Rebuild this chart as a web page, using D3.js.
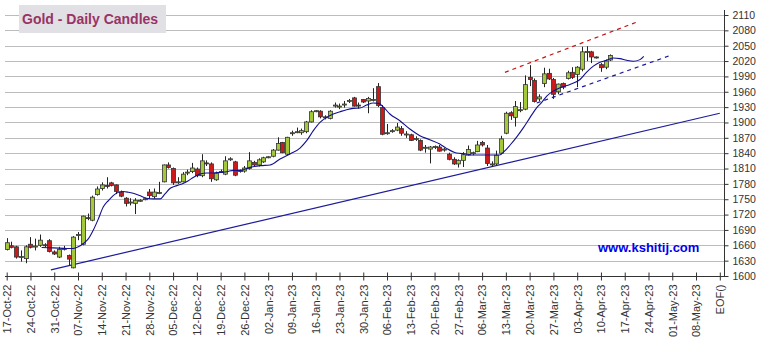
<!DOCTYPE html>
<html><head><meta charset="utf-8">
<script src="https://cdn.jsdelivr.net/npm/d3@7"></script>
<style>body{margin:0;background:#fff}svg{display:block}</style>
</head><body>
<script>
const tickLabels = ["17-Oct-22","24-Oct-22","31-Oct-22","07-Nov-22","14-Nov-22","21-Nov-22","28-Nov-22","05-Dec-22","12-Dec-22","19-Dec-22","26-Dec-22","02-Jan-23","09-Jan-23","16-Jan-23","23-Jan-23","30-Jan-23","06-Feb-23","13-Feb-23","20-Feb-23","27-Feb-23","06-Mar-23","13-Mar-23","20-Mar-23","27-Mar-23","03-Apr-23","10-Apr-23","17-Apr-23","24-Apr-23","01-May-23","08-May-23","EOF()"];
const yTicks = [1600,1630,1660,1690,1720,1750,1780,1810,1840,1870,1900,1930,1960,1990,2020,2050,2080,2110];
const open  = [1652,1659,1657,1637,1634,1662,1658,1660,1661,1669,1647,1637,1654,1640,1616,1680,1662,1714,1709,1759,1771,1777,1782,1778,1764,1752,1744,1742,1747,1750,1764,1755,1762,1784,1817,1810,1783,1784,1802,1804,1809,1796,1821,1819,1788,1804,1799,1828,1823,1806,1805,1810,1822,1817,1823,1832,1834,1846,1861,1838,1879,1881,1880,1882,1901,1922,1922,1911,1908,1933,1931,1935,1942,1948,1934,1945,1942,1944,1970,1929,1879,1883,1885,1888,1877,1876,1868,1865,1851,1848,1852,1852,1847,1838,1828,1819,1826,1836,1840,1843,1861,1850,1818,1819,1840,1879,1919,1910,1924,1926,1988,1982,1946,1976,1996,1984,1960,1976,1986,1998,1994,2004,2037,2038,2028,2013,2008,2022];
const high  = [1674,1667,1659,1650,1660,1676,1673,1681,1664,1672,1650,1657,1659,1642,1678,1686,1718,1722,1757,1775,1783,1793,1784,1779,1767,1754,1752,1752,1750,1753,1770,1771,1784,1818,1822,1812,1793,1803,1808,1821,1812,1838,1826,1822,1804,1808,1834,1832,1825,1808,1815,1842,1825,1830,1833,1834,1848,1871,1862,1872,1884,1890,1888,1903,1924,1924,1924,1914,1924,1939,1937,1942,1946,1950,1939,1946,1950,1967,1977,1934,1897,1887,1899,1893,1883,1878,1873,1867,1856,1854,1855,1856,1850,1841,1832,1828,1842,1855,1843,1864,1864,1856,1824,1845,1874,1921,1922,1942,1940,1992,2012,1986,1955,2007,2005,1987,1976,1978,2001,2008,2010,2048,2049,2040,2029,2016,2023,2033];
const low   = [1650,1654,1634,1628,1625,1654,1650,1657,1656,1646,1641,1635,1650,1621,1615,1670,1660,1709,1707,1757,1767,1771,1775,1760,1754,1736,1738,1721,1745,1748,1751,1751,1760,1783,1810,1778,1780,1783,1797,1801,1793,1793,1815,1784,1786,1802,1797,1825,1795,1802,1802,1808,1814,1814,1821,1830,1832,1845,1840,1836,1874,1879,1876,1879,1900,1920,1908,1906,1906,1929,1926,1929,1938,1931,1927,1938,1918,1941,1930,1875,1876,1880,1883,1874,1870,1864,1864,1844,1841,1820,1848,1843,1843,1826,1817,1812,1813,1835,1836,1842,1853,1815,1813,1817,1838,1877,1905,1892,1920,1924,1971,1939,1942,1969,1983,1946,1955,1965,1984,1985,1969,2000,2020,2016,2025,1999,2004,2020];
const close = [1665,1656,1637,1638,1657,1656,1658.5,1670,1660,1648,1643,1652,1653,1633,1676,1681,1717,1713,1754,1770,1778,1776,1777,1765,1756,1742,1744.5,1748,1748,1751,1757,1764,1763,1817,1812,1782,1784,1799,1803,1811,1796,1825,1820,1790,1801,1803,1825,1829,1797,1805,1811,1825,1817,1827,1831,1833,1846,1859,1841,1871,1880,1882,1884,1901,1921,1923,1911,1910,1922,1934,1932,1936,1943,1932,1933,1940,1947,1945,1933,1877,1880,1884,1891,1879,1877.5,1865,1868.5,1846,1851.5,1852,1853,1844,1848,1828,1819,1826,1837,1847,1841,1856,1856,1820,1819,1836,1868,1918,1913,1931,1925,1974,1984,1941,1950,1995,1985,1955,1975,1969,1997,1988,2008,2038,2038.5,2028,2027,2007,2020,2031];
const maDay = [7.35,9.8,12.6,14,15.07,16.1,17.2,18.2,19.3,20.3,21.4,22.4,23.5,24.5,25.6,26.6,28,29.4,30.9,32.3,33.3,34.4,35.8,37.2,38.2,39.3,40.7,42.1,43.5,44.9,46.3,47.7,49.1,51.2,53.3,55.4,57.5,59.6,61.7,63.1,64.5,65.9,67.3,68.7,70.1,71.5,72.9,74.3,75.7,77.1,78.2,79.3,80.6,82.7,84.8,86.9,89,91.1,92.5,94.6,96.7,98.1,100.9,103.7,104.5,105.9,107.3,108.7,110.1,111.5,112.5,113.6,115,116.4,118.5,120.6,122,123.4,124.8,126.2,127.6,129,130.4,131.8,133.2,134];
const maVal = [1655.6,1655,1653.7,1653.7,1657,1663.4,1673,1689.3,1712,1734.6,1747.5,1757.2,1763.7,1765,1763.7,1761.7,1757.2,1752,1750.7,1750.7,1760.4,1771.4,1776.6,1781,1786.3,1792.8,1799.2,1801.2,1801.2,1802.5,1803.8,1806.4,1806.4,1812.3,1815.6,1816.9,1828.6,1838.4,1850,1864.4,1884,1900.2,1910,1916.5,1921,1925,1927.5,1928.2,1934,1938,1937.3,1929.5,1916.5,1903.4,1887.2,1874.2,1866.3,1858,1849.4,1840.3,1838.4,1836.4,1836.4,1836.4,1842,1856,1872,1890,1910,1929,1938.8,1951.7,1961.4,1967.9,1974.3,1984,1998.3,2010,2017.7,2021.5,2026,2024.7,2021.5,2019.6,2022.8,2029.3];
const trendSolid = [[9.3,1612],[150,1918]];
const trendRedDash = [[104.8,1998],[132.9,2097.5]];
const trendBlueDash = [[111.5,1938],[139.9,2032]];

const W = 763, H = 344;
const svg = d3.select("body").append("svg").attr("width", W).attr("height", H);
const x = d3.scaleLinear().domain([0, 150]).range([6.7, 719.8]);
const y = d3.scaleLinear().domain([1600, 2110]).range([276, 15]);
const plotL = 5, plotR = 724;

// gridlines
svg.append("g").selectAll("line").data(yTicks.slice(1)).join("line")
  .attr("x1", plotL).attr("x2", plotR)
  .attr("y1", d => Math.round(y(d)) + 0.5).attr("y2", d => Math.round(y(d)) + 0.5)
  .attr("stroke", "#bcbcbc").attr("stroke-width", 1);

// title box
svg.append("rect").attr("x", 19).attr("y", 5).attr("width", 147).attr("height", 28).attr("fill", "#e1e0e4");
svg.append("text").attr("x", 22).attr("y", 24).text("Gold - Daily Candles")
  .attr("font-family", "Liberation Sans, Arial, sans-serif").attr("font-weight", "bold")
  .attr("font-size", 14).attr("fill", "#993366");

// website
svg.append("text").attr("x", 598).attr("y", 252).text("www.kshitij.com")
  .attr("font-family", "Liberation Sans, Arial, sans-serif").attr("font-weight", "bold")
  .attr("font-size", 13).attr("fill", "#0000ee");

// trend lines
const tl = d3.line().x(d => x(d[0])).y(d => y(d[1]));
svg.append("path").attr("d", tl(trendSolid)).attr("stroke", "#1c1c9c").attr("stroke-width", 1.2).attr("fill", "none");
svg.append("path").attr("d", tl(trendRedDash)).attr("stroke", "#cc1111").attr("stroke-width", 1.2).attr("stroke-dasharray", "4,4").attr("fill", "none");
svg.append("path").attr("d", tl(trendBlueDash)).attr("stroke", "#1a1aa0").attr("stroke-width", 1.2).attr("stroke-dasharray", "4,4").attr("fill", "none");

// candles
const idx = d3.range(open.length);
const cg = svg.append("g");
cg.selectAll("line.wick").data(idx).join("line").attr("class", "wick")
  .attr("x1", i => Math.round(x(i)) + 0.5).attr("x2", i => Math.round(x(i)) + 0.5)
  .attr("y1", i => y(high[i])).attr("y2", i => y(low[i]))
  .attr("stroke", "#222").attr("stroke-width", 1);
cg.selectAll("rect.body").data(idx).join("rect").attr("class", "body")
  .attr("x", i => Math.round(x(i)) - 1.5)
  .attr("y", i => y(Math.max(open[i], close[i])))
  .attr("width", 4)
  .attr("height", i => Math.max(1, Math.abs(y(open[i]) - y(close[i]))))
  .attr("fill", i => close[i] >= open[i] ? "#a3c93a" : "#cc1a1a")
  .attr("stroke", "#333").attr("stroke-width", 0.8);

// moving average
const ma = d3.line().curve(d3.curveMonotoneX).x((d, i) => x(maDay[i])).y((d, i) => y(maVal[i]));
svg.append("path").attr("d", ma(maDay)).attr("stroke", "#101090").attr("stroke-width", 1.1).attr("fill", "none");

// y axis
const ya = svg.append("g").attr("transform", `translate(${plotR + 0.5},0)`)
  .call(d3.axisRight(y).tickValues(yTicks).tickSize(4).tickPadding(4).tickFormat(d3.format("d")));
ya.select(".domain").remove();
ya.append("line").attr("x1", 0).attr("x2", 0).attr("y1", 10).attr("y2", 277).attr("stroke", "#333");
ya.selectAll(".tick line").attr("stroke", "#333");
ya.selectAll("text").attr("font-family", "Liberation Sans, Arial, sans-serif").attr("font-size", 10.5).attr("fill", "#333");

// x axis
const xa = svg.append("g").attr("transform", `translate(0,${Math.round(y(1600)) + 0.5})`)
  .call(d3.axisBottom(x).tickValues(d3.range(0, 151, 5)).tickFormat((d, i) => tickLabels[i]));
xa.select(".domain").remove();
xa.append("line").attr("x1", plotL).attr("x2", plotR).attr("stroke", "#333");
xa.selectAll(".tick line").attr("y1", -4).attr("y2", 4).attr("stroke", "#333");
xa.selectAll(".tick text").attr("transform", "rotate(-90)").attr("text-anchor", "end")
  .attr("x", -8).attr("y", 0).attr("dy", "0.35em")
  .attr("font-family", "Liberation Sans, Arial, sans-serif").attr("font-size", 11).attr("fill", "#333");
</script>
</body></html>
